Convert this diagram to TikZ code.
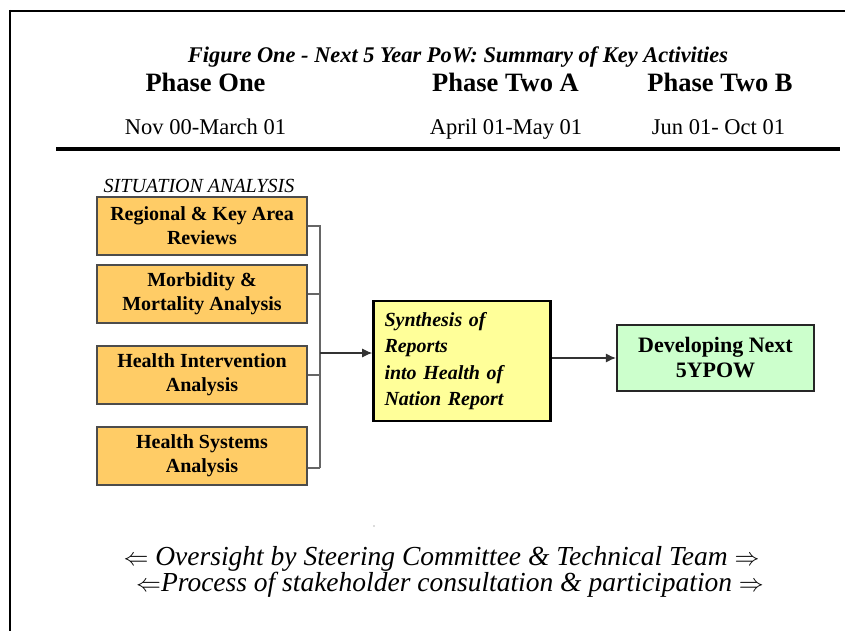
\documentclass[tikz,border=0pt]{standalone}
\usepackage{fontspec}
\setmainfont{Liberation Serif}
\usetikzlibrary{arrows.meta,calc}
\definecolor{orangefill}{HTML}{FFCC66}
\definecolor{yellowfill}{HTML}{FFFF99}
\definecolor{greenfill}{HTML}{CCFFCC}
\definecolor{conngray}{HTML}{666666}
\begin{document}
\begin{tikzpicture}[x=1pt,y=-1pt,
  sitbox/.style={draw=black!70,line width=1.1pt,fill=orangefill,minimum width=210pt,minimum height=58pt,inner sep=0pt,align=center,font=\fontsize{20}{24}\selectfont\bfseries},
  synbox/.style={draw=black,line width=2.6pt,fill=yellowfill,minimum width=177pt,minimum height=120pt,inner xsep=0pt,inner ysep=0pt,text width=155pt,align=left,font=\fontsize{20}{26.5}\selectfont\bfseries\itshape},
  devbox/.style={draw=black!85,line width=2.2pt,fill=greenfill,minimum width=197pt,minimum height=66pt,inner sep=0pt,align=center,font=\fontsize{22}{25}\selectfont\bfseries},
  conn/.style={draw=conngray,line width=1.2pt},
  arr/.style={draw=black!80,line width=1.1pt,-{Latex[length=10pt,width=9pt]}},
  phase/.style={anchor=base,font=\fontsize{26.5}{30}\selectfont\bfseries},
  datetext/.style={anchor=base,font=\fontsize{22.5}{25}\selectfont},
  bottomtext/.style={anchor=base,inner sep=0pt,font=\fontsize{27.5}{30}\selectfont\itshape}]
\useasboundingbox (0,0) rectangle (845,631);
% frame lines
\draw[line width=2pt] (9,11) -- (845,11);
\draw[line width=2.2pt] (10,10) -- (10,631);
\draw[line width=4pt] (56,149.5) -- (840,149.5);
% headings
\node[anchor=base,font=\fontsize{22.4}{24}\selectfont\bfseries\itshape] (title) at (458,63) {Figure One - Next 5 Year PoW: Summary of Key Activities};
\node[phase] (p1) at (205.5,92) {Phase One};
\node[phase] (p2a) at (505.5,92) {Phase Two A};
\node[phase] (p2b) at (720,92) {Phase Two B};
\node[datetext] (d1) at (205.5,135) {Nov 00-March 01};
\node[datetext] (d2a) at (506,135) {April 01-May 01};
\node[datetext] (d2b) at (718.5,135) {Jun 01- Oct 01};
\node[anchor=base,font=\fontsize{20}{24}\selectfont\itshape] (sit) at (199,193) {SITUATION ANALYSIS};
% boxes
\node[sitbox] (b1) at (202,226) {Regional \& Key Area\\Reviews};
\node[sitbox] (b2) at (202,294) {Morbidity \&\\Mortality Analysis};
\node[sitbox] (b3) at (202,375) {Health Intervention\\Analysis};
\node[sitbox] (b4) at (202,456) {Health Systems\\Analysis};
\node[synbox] (syn) at (462,361) {Synthesis of\\Reports\\into Health of\\Nation Report};
\node[devbox] (dev) at (715.5,358) {Developing Next\\5YPOW};
% connectors
\coordinate (barbot) at (320,468);
\coordinate (junc) at (320,353);
\draw[conn] (b1.east) -| (barbot);
\draw[conn] (b2.east) -- (b2.east -| barbot);
\draw[conn] (b3.east) -- (b3.east -| barbot);
\draw[conn] (barbot) -- (barbot -| b4.east);
\draw[arr] (junc) -- (junc -| syn.west);
\draw[arr] (syn.east |- dev.west) -- (dev.west);
% small dot
\fill[black!60] (374,526) circle (0.6pt);
% bottom text
\node[bottomtext] (ov) at (441.5,565) {$\Leftarrow$ Oversight by Steering Committee \& Technical Team $\Rightarrow$};
\node[bottomtext] (pr) at (450,591) {$\Leftarrow$Process of stakeholder consultation \& participation $\Rightarrow$};
\end{tikzpicture}
\end{document}
